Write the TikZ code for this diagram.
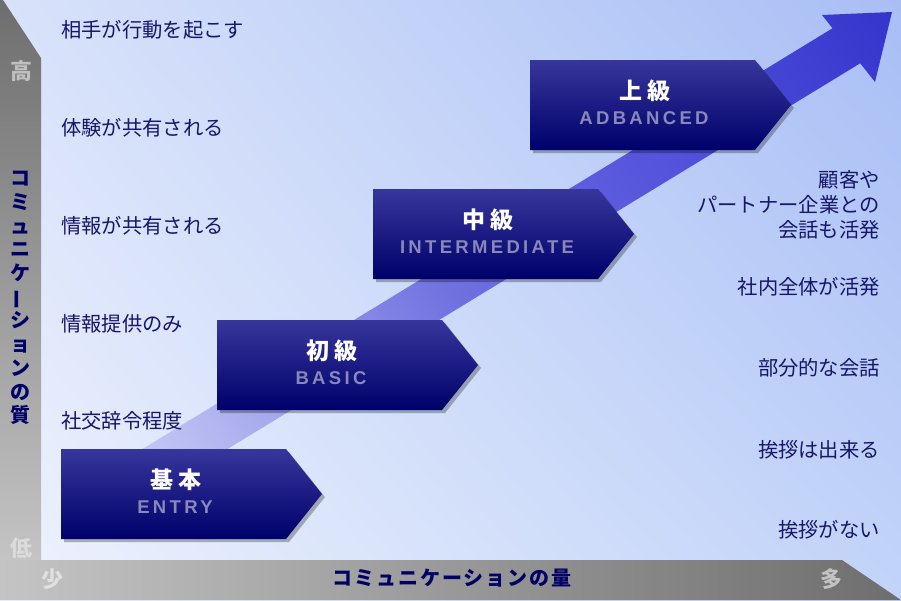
\documentclass[tikz,border=0pt]{standalone}
\usepackage{fontspec}
\usepackage{graphicx}
\usetikzlibrary{shadings}
\setmainfont{Noto Sans CJK JP}
\newfontfamily\subfont{Liberation Sans}[LetterSpace=18]
\definecolor{bgUL}{HTML}{D8E2FA}
\definecolor{bgUR}{HTML}{A8BEF5}
\definecolor{bgLL}{HTML}{EEF3FD}
\definecolor{bgLR}{HTML}{C3D4F9}
\definecolor{labc}{HTML}{16166A}
\definecolor{axisc}{HTML}{000066}
\definecolor{boxtop}{HTML}{36369C}
\definecolor{boxbot}{HTML}{00006A}
\definecolor{subc}{HTML}{8888BB}
\definecolor{grayD}{HTML}{6E6E6E}
\definecolor{grayL}{HTML}{C4C4C4}
\definecolor{aA}{HTML}{D0D4F8}
\definecolor{aB}{HTML}{B5B8F0}
\definecolor{aC}{HTML}{7070E0}
\definecolor{aD}{HTML}{5656DD}
\definecolor{aE}{HTML}{3333CC}
\pgfdeclarehorizontalshading{arrowshade}{100bp}{color(0bp)=(aA); color(25bp)=(aA); color(31.5bp)=(aB); color(46.5bp)=(aC); color(58.5bp)=(aD); color(75bp)=(aE); color(100bp)=(aE)}
\tikzset{
  lbl/.style={text=labc, font=\fontsize{20.3}{25}\selectfont, inner sep=0pt},
  tick/.style={font=\fontsize{22}{22}\selectfont\bfseries, inner sep=0pt},
  axlabel/.style={text=axisc, font=\fontsize{20}{23.7}\selectfont\bfseries, inner sep=0pt},
  boxshade/.style={top color=boxtop, bottom color=boxbot},
  boxshadow/.style={fill=black, opacity=0.28},
  titletext/.style={text=white, font=\fontsize{23}{23}\selectfont\bfseries\addfontfeature{LetterSpace=25}, inner sep=0pt},
  subtext/.style={text=subc, font=\fontsize{18.5}{18.5}\selectfont\subfont\bfseries, inner sep=0pt}
}
\begin{document}
\begin{tikzpicture}[x=1pt,y=-1pt]
\useasboundingbox (0,0) rectangle (901,600);
% background
\shade[upper left=bgUL, upper right=bgUR, lower left=bgLL, lower right=bgLR] (0,0) rectangle (901,600);
% axis bars
\shade[top color=grayD, bottom color=grayL] (0,0) -- (3,0) -- (41,58) -- (41,560) -- (0,560) -- cycle;
\shade[left color=grayL, right color=grayD] (0,560) -- (842,560) -- (901,600) -- (0,600) -- cycle;
% big arrow
\begin{scope}
\clip (108,470) -- (832.5,28.3) -- (822,15) -- (892,12) -- (875,82) -- (860.2,63.3) -- (193,470) -- cycle;
\shade[shading=arrowshade, transform canvas={rotate around={31.4:(150,455)}}] (90,255) rectangle (1030,655);
\end{scope}
% level boxes
\foreach \X/\Y/\n/\t/\s in {61/449/1/基本/ENTRY, 217/320/2/初級/BASIC, 373/189/3/中級/INTERMEDIATE, 530/60/4/上級/ADBANCED}{
  \fill[boxshadow, shift={(3,3)}] (\X,\Y) -- ++(225,0) -- ++(36,45) -- ++(-36,45) -- ++(-225,0) -- cycle;
  \shade[boxshade] (\X,\Y) -- ++(225,0) -- ++(36,45) -- ++(-36,45) -- ++(-225,0) -- cycle;
  \node[titletext] (t\n) at (\X+115,\Y+31) {\t};
  \node[subtext] (s\n) at (\X+114,\Y+58) {\s};
}
% left labels
\node[lbl, anchor=west] (l1) at (61,30) {相手が行動を起こす};
\node[lbl, anchor=west] (l2) at (61,128) {体験が共有される};
\node[lbl, anchor=west] (l3) at (61,226) {情報が共有される};
\node[lbl, anchor=west] (l4) at (61,324) {情報提供のみ};
\node[lbl, anchor=west] (l5) at (61,421) {社交辞令程度};
% right labels
\node[lbl, anchor=east, align=right] (r1) at (880,205) {顧客や\\パートナー企業との\\会話も活発};
\node[lbl, anchor=east] (r2) at (880,287) {社内全体が活発};
\node[lbl, anchor=east] (r3) at (880,368) {部分的な会話};
\node[lbl, anchor=east] (r4) at (880,450) {挨拶は出来る};
\node[lbl, anchor=east] (r5) at (880,530) {挨拶がない};
% axis ticks
\node[tick, text=white!75!black] (hi) at (21,71) {高};
\node[tick, text=white!86!black] (lo) at (21,548) {低};
\node[tick, text=white!88!black] (few) at (52,579) {少};
\node[tick, text=white!76!black] (many) at (831,579) {多};
% axis labels
\node[axlabel, align=center] (qual) at (20,298) {コ\\ミ\\ュ\\ニ\\ケ\\\rotatebox[origin=c]{90}{ー}\\シ\\ョ\\ン\\の\\質};
\node[axlabel, font=\fontsize{20}{20}\selectfont\bfseries\addfontfeature{LetterSpace=10}] (quant) at (452,578) {コミュニケーションの量};
\end{tikzpicture}
\end{document}
